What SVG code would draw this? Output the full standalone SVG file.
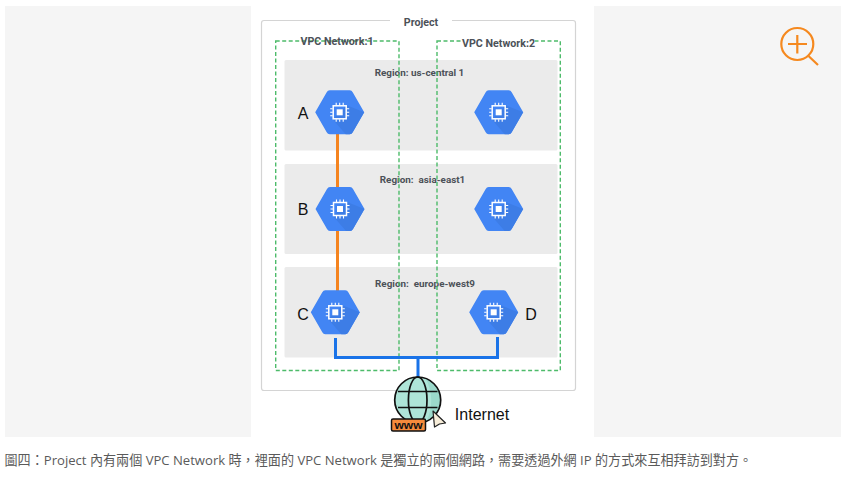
<svg xmlns="http://www.w3.org/2000/svg" xmlns:xlink="http://www.w3.org/1999/xlink" width="851" height="479" viewBox="0 0 851 479">
<style>
.panel{fill:#f5f5f5}
.region{fill:#ebebeb}
.vpc{fill:none;stroke:#4dbb6a;stroke-width:1.4;stroke-dasharray:4 2.500}
.t{font-family:"Roboto","Liberation Sans",sans-serif;font-weight:700;fill:#4c5158;text-anchor:middle;white-space:pre}
.r{font-size:9.9px}
.h{font-size:10.7px}
.big{font-family:"Liberation Sans",sans-serif;font-size:16px;fill:#111;text-anchor:middle}
.org{fill:none;stroke:#f5841f;stroke-width:3}
.blue{fill:none;stroke:#1a73e8;stroke-width:3}
.gl{fill:none;stroke:#111;stroke-width:1.700}
</style>
<defs>
<g id="vm">
<path d="M-24.500 0L-13 -20Q-12 -22 -10 -22H10Q12 -22 13 -20L24.500 0L13 20Q12 22 10 22H-10Q-12 22 -13 20Z" fill="#4285f4"/>
<path d="M7 -7L24.500 0L13 20Q12 22 10 22H6L-7 7Z" fill="#3d7de6"/>
<rect x="-6.500" y="-6.500" width="13" height="13" fill="none" stroke="#fff" stroke-width="1.500"/>
<rect x="-3" y="-3" width="6" height="6" fill="#fff"/>
<path d="M-3.500 -9.500V-7M0 -9.500V-7M3.500 -9.500V-7M-3.500 7V9.500M0 7V9.500M3.500 7V9.500M-9.500 -3.500H-7M-9.500 0H-7M-9.500 3.500H-7M7 -3.500H9.500M7 0H9.500M7 3.500H9.500" stroke="#fff" stroke-width="1.100" fill="none"/>
</g>
</defs>
<rect width="851" height="479" fill="#fff"/>
<rect class="panel" x="5" y="6" width="246" height="431"/>
<rect class="panel" x="594" y="6" width="247" height="431"/>

<g id="zoom-icon" fill="none" stroke="#f5891f" stroke-width="2.200">
<circle cx="797.300" cy="44" r="16"/>
<path d="M788 44H807M797.300 35V53.500M808.500 56L818 65"/>
</g>

<g id="project">
<path d="M390 20.500H264Q261.500 20.500 261.500 23V388Q261.500 390.500 264 390.500H573Q575.500 390.500 575.500 388V23Q575.500 20.500 573 20.500H452" fill="none" stroke="#d4d4d4" stroke-width="1.200"/>
<text class="t h" x="421" y="26">Project</text>
</g>

<g id="regions">
<rect class="region" x="284.500" y="60" width="273" height="90.500" rx="1.500"/>
<rect class="region" x="284.500" y="164" width="273" height="90" rx="1.500"/>
<rect class="region" x="284.500" y="267" width="273" height="90.500" rx="1.500"/>
<text class="t r" x="419.500" y="75.500">Region: us-central 1</text>
<text class="t r" x="422.500" y="183">Region:  asia-east1</text>
<text class="t r" x="425" y="287">Region:  europe-west9</text>
</g>

<g id="vpc-network-1">
<rect class="vpc" x="275.700" y="41" width="123.300" height="329.500"/>
<text class="t h" x="337" y="44.500">VPC Network:1</text>
</g>
<g id="vpc-network-2">
<rect class="vpc" x="437" y="41" width="123.300" height="329.500"/>
<rect x="462" y="38" width="73" height="9" fill="#fff"/>
<text class="t h" x="498.500" y="47">VPC Network:2</text>
</g>

<g id="connectors">
<path class="org" d="M337.500 133V295"/>
<path class="blue" d="M335.500 338V357.500H497.500V337M418 357.500V377"/>
</g>

<g id="node-a"><use xlink:href="#vm" x="339.700" y="112.300"/><text class="big" x="303" y="119">A</text></g>
<g id="node-a2"><use xlink:href="#vm" x="498.700" y="112.300"/></g>
<g id="node-b"><use xlink:href="#vm" x="340" y="209"/><text class="big" x="303" y="215">B</text></g>
<g id="node-b2"><use xlink:href="#vm" x="498.700" y="209"/></g>
<g id="node-c"><use xlink:href="#vm" x="335.300" y="312.300"/><text class="big" x="303" y="320">C</text></g>
<g id="node-d"><use xlink:href="#vm" x="493.700" y="312.300"/><text class="big" x="531" y="320">D</text></g>

<g id="internet">
<circle cx="417.700" cy="400" r="23" fill="#aee5d8"/>
<path d="M426 379A22 22 0 0 1 427 420Q436 400 426 379Z" fill="#9bd9cb"/>
<circle class="gl" cx="417.700" cy="400" r="23"/>
<ellipse class="gl" cx="417.700" cy="400" rx="9.300" ry="23"/>
<path class="gl" d="M398 391.500H437.500M398 407.500H437.500"/>
<rect x="391.500" y="419" width="34" height="12" rx="1.500" fill="#f58b3c" stroke="#111" stroke-width="1.500"/>
<text x="408.500" y="428.500" font-family="Liberation Sans, sans-serif" font-weight="700" font-size="10" fill="#111" text-anchor="middle" textLength="28" lengthAdjust="spacingAndGlyphs">www</text>
<path d="M433 411L445.500 423L439.500 424L434.500 427Z" fill="#f8eeda" stroke="#222" stroke-width="1.200" stroke-linejoin="round"/>
<text x="482" y="420" font-family="Liberation Sans, sans-serif" font-size="16" fill="#111" text-anchor="middle">Internet</text>
</g>

<text x="4.500" y="465" font-family="Open Sans, Noto Sans CJK TC, Noto Sans, sans-serif" font-size="13.100" fill="#5a5a5a">圖四：Project 內有兩個 VPC Network 時，裡面的 VPC Network 是獨立的兩個網路，需要透過外網 IP 的方式來互相拜訪到對方。</text>
</svg>
